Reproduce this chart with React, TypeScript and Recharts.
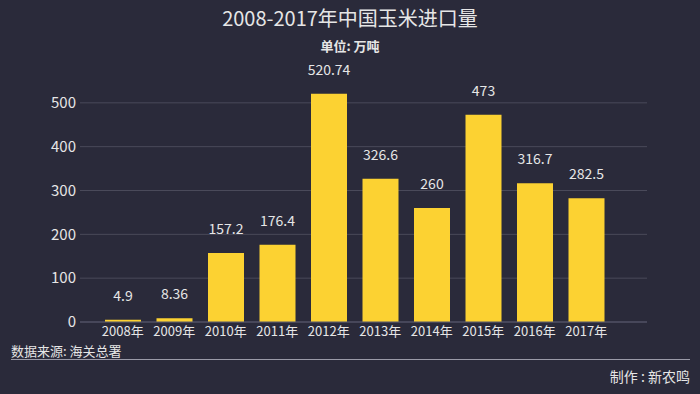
import React from 'react';
import { BarChart, Bar, XAxis, YAxis, CartesianGrid, LabelList } from 'recharts';

const years = ['2008年', '2009年', '2010年', '2011年', '2012年', '2013年', '2014年', '2015年', '2016年', '2017年'];
const imports = [4.9, 8.36, 157.2, 176.4, 520.74, 326.6, 260, 473, 316.7, 282.5];
const yTicks = [0, 100, 200, 300, 400, 500];

const data = years.map((year, i) => ({ year, value: imports[i] }));

const FONT = '"Noto Sans CJK SC", "Noto Sans", sans-serif';
const BG = '#2a2a3a';
const TEXT = '#e6e6e6';

export default function App() {
  return (
    <div
      style={{
        position: 'absolute',
        left: 0,
        top: 0,
        width: 700,
        height: 394,
        background: BG,
        fontFamily: FONT,
        color: TEXT,
        overflow: 'hidden',
      }}
    >
      <div style={{ position: 'absolute', top: 4, width: 700, textAlign: 'center', fontSize: 20, lineHeight: '28px' }}>
        2008-2017年中国玉米进口量
      </div>
      <div style={{ position: 'absolute', top: 36, width: 700, textAlign: 'center', fontSize: 13, lineHeight: '20px', fontWeight: 'bold' }}>
        单位: 万吨
      </div>

      <BarChart
        width={700}
        height={394}
        data={data}
        margin={{ top: 59, right: 53, bottom: 52, left: 20 }}
        style={{ position: 'absolute', left: 0, top: 0 }}
      >
        <CartesianGrid vertical={false} horizontalValues={yTicks} stroke="#4a4a5a" strokeWidth={1} />
        <XAxis
          dataKey="year"
          height={20}
          padding={{ left: 17, right: 35 }}
          axisLine={{ stroke: '#55556a' }}
          tickLine={false}
          tickSize={0}
          tickMargin={5}
          interval={0}
          tick={{ fill: TEXT, fontSize: 13, fontFamily: FONT }}
        />
        <YAxis
          width={60}
          domain={[0, 600]}
          ticks={yTicks}
          axisLine={false}
          tickLine={false}
          tickSize={0}
          tickMargin={4}
          tick={{ fill: TEXT, fontSize: 15, fontFamily: FONT }}
        />
        <Bar dataKey="value" fill="#fcd232" barSize={36} isAnimationActive={false}>
          <LabelList dataKey="value" position="top" offset={19} fill={TEXT} fontSize={14} fontFamily={FONT} />
        </Bar>
      </BarChart>

      <div style={{ position: 'absolute', left: 11, top: 342, fontSize: 13, lineHeight: '18px' }}>数据来源: 海关总署</div>
      <div style={{ position: 'absolute', left: 11, top: 359, width: 679, height: 1, background: '#9a9aa8' }} />
      <div style={{ position: 'absolute', right: 10, top: 366, fontSize: 14, lineHeight: '20px' }}>制作 : 新农鸣</div>
    </div>
  );
}
